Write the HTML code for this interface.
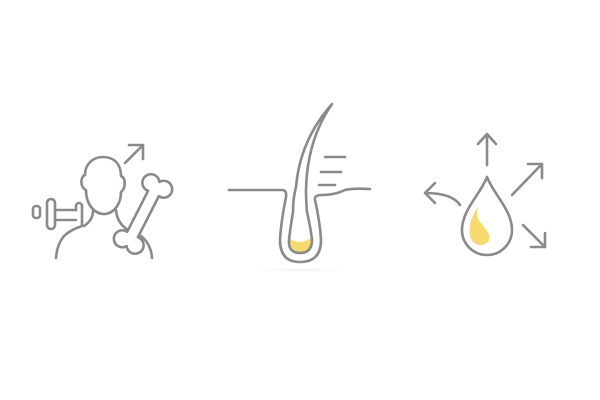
<!DOCTYPE html>
<html><head><style>html,body{margin:0;padding:0;background:#fff}svg{display:block}</style></head>
<body>
<svg width="600" height="400" viewBox="0 0 600 400" fill="none" stroke="#8a8a8a" stroke-width="2.6" stroke-linecap="round" stroke-linejoin="round">
<defs><radialGradient id="sh" cx="50%" cy="50%" r="50%"><stop offset="0" stop-color="#eee"/><stop offset="1" stop-color="#fff" stop-opacity="0"/></radialGradient></defs>
<!-- icon 1 -->
<rect x="33" y="206" width="7" height="12" rx="3"/>
<rect x="47" y="199" width="8" height="30" rx="4"/>
<path d="M55 210 H76 M55 220 H76"/>
<path d="M76 210 V206 a3 3 0 0 1 6 0 V226 Q70 230 64 236 Q57 244 56 258"/>
<path d="M103 157 C92 157 85 165 85 175 C80 177 80 187 86 190 C86 205 95 214 104 214 C113 214 121 205 121 192 C126 188 126 178 121 176 C121 164 114 157 103 157 Z"/>
<path d="M93 211 Q93 220 84 226"/>
<path d="M116 210 Q117 223 128 230"/>
<path d="M141 236 Q151 244 152 258"/>
<path d="M125 163 L143 145 M129 145 H143 V159"/>
<g transform="translate(143 214) rotate(27)">
<path d="M -6 -23 A8.5 8.5 0 1 1 0 -36 A8.5 8.5 0 1 1 6 -23 L 6 23 A8.5 8.5 0 1 1 0 36 A8.5 8.5 0 1 1 -6 23 Z" fill="#fff"/>
</g>
<!-- icon 2 -->
<ellipse cx="300" cy="270" rx="60" ry="3" fill="url(#sh)" stroke="none"/>
<path d="M229 190 H282 Q287 190 286 197 Q281 222 280 240 Q280 262 300 262 Q321 262 321 240 Q320 222 315 200 Q314 195 322 195 Q335 195 345 190 Q352 188 370 189"/>
<path d="M289 238 Q288 252 300 252 Q312 252 311 238 Q300 246 289 238 Z" fill="#f6d96f" stroke="none"/>
<path d="M289 240 Q290 230 293 212 Q293 198 296 187 Q300 140 332 104 Q307 140 306 190 Q306 200 307 212 Q311 230 312 240 Q312 253 300 253 Q288 253 289 240 Z"/>
<path d="M325 157 H345 M321 172 H341 M319 185 H335"/>
<!-- icon 3 -->
<path d="M487 165 V134 M478 144 L487 134 L496 144"/>
<path d="M512 195 L542 164 M528 164 H542 V178"/>
<path d="M523 225 L545 247 M545 233 V247 H531"/>
<path d="M460 205 Q452 193 425 193 M435 183 L425 193 L435 203"/>
<path d="M487 177 C480 195 462 210 462 230 A25 25 0 0 0 512 230 C512 210 494 195 487 177 Z"/>
<path d="M475 211 Q468 225 470 236 Q473 246 482 245 Q491 243 489 235 Q486 228 480 222 Q475 215 478 209 Q477 208 475 211 Z" fill="#f6d96f" stroke="none"/>
</svg>
</body></html>
